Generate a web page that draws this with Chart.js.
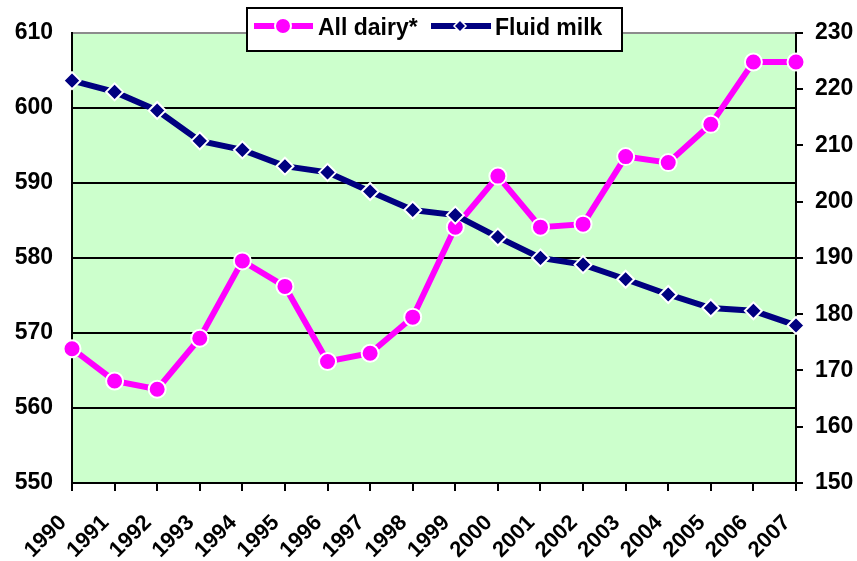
<!DOCTYPE html>
<html lang="en">
<head>
<meta charset="UTF-8">
<title>Dairy consumption</title>
<script src="https://cdn.jsdelivr.net/npm/chart.js"></script>
<style>
    body { margin: 0; background: #ffffff; }
    #wrap { width: 857px; height: 561px; }
</style>
</head>
<body>
<div id="wrap"><canvas id="dairyChart" width="857" height="561"></canvas></div>
<script>
const years = ['1990','1991','1992','1993','1994','1995','1996','1997','1998',
               '1999','2000','2001','2002','2003','2004','2005','2006','2007'];
// left axis
const allDairy = [567.9, 563.6, 562.5, 569.3, 579.6, 576.2, 566.2, 567.3, 572.1,
                  584.1, 590.9, 584.1, 584.5, 593.5, 592.7, 597.8, 606.1, 606.1];
// right axis
const fluidMilk = [221.5, 219.5, 216.2, 210.8, 209.2, 206.3, 205.2, 201.8, 198.5,
                   197.6, 193.7, 190.0, 188.8, 186.2, 183.5, 181.1, 180.6, 178.0];
const leftTicks = [550, 560, 570, 580, 590, 600, 610];
const rightTicks = [150, 160, 170, 180, 190, 200, 210, 220, 230];

const PINK = '#ff00ff';
const NAVY = '#000080';

Chart.defaults.font.family = '"Liberation Sans", Arial, sans-serif';
Chart.defaults.font.weight = 'bold';
Chart.defaults.color = '#000';

// green plot background
const plotBg = {
    id: 'plotBg',
    beforeDraw(chart) {
        const a = chart.chartArea, ctx = chart.ctx;
        ctx.save();
        ctx.fillStyle = '#ccffcc';
        ctx.fillRect(a.left, a.top, a.right - a.left, a.bottom - a.top);
        ctx.restore();
    }
};

// boxed legend sitting over the top of the plot
const boxLegend = {
    id: 'boxLegend',
    afterDraw(chart) {
        const ctx = chart.ctx;
        ctx.save();
        ctx.fillStyle = '#fff';
        ctx.fillRect(247, 8, 375, 43);
        ctx.strokeStyle = '#000';
        ctx.lineWidth = 2;
        ctx.strokeRect(247, 8, 375, 43);

        ctx.font = 'bold 23px "Liberation Sans", Arial, sans-serif';
        ctx.textBaseline = 'middle';
        ctx.fillStyle = '#000';

        // All dairy*
        ctx.strokeStyle = PINK;
        ctx.lineWidth = 6;
        ctx.beginPath(); ctx.moveTo(254, 26); ctx.lineTo(313, 26); ctx.stroke();
        ctx.fillStyle = PINK;
        ctx.strokeStyle = '#fff';
        ctx.lineWidth = 2;
        ctx.beginPath(); ctx.arc(283, 26, 8, 0, Math.PI * 2); ctx.fill(); ctx.stroke();
        ctx.fillStyle = '#000';
        ctx.fillText(chart.data.datasets[0].label, 318, 29);

        // Fluid milk
        ctx.strokeStyle = NAVY;
        ctx.lineWidth = 6;
        ctx.beginPath(); ctx.moveTo(431, 26); ctx.lineTo(491, 26); ctx.stroke();
        ctx.fillStyle = NAVY;
        ctx.strokeStyle = '#fff';
        ctx.lineWidth = 1.5;
        ctx.beginPath();
        ctx.moveTo(460, 20); ctx.lineTo(466, 26); ctx.lineTo(460, 32); ctx.lineTo(454, 26);
        ctx.closePath(); ctx.fill(); ctx.stroke();
        ctx.fillStyle = '#000';
        ctx.fillText(chart.data.datasets[1].label, 495, 29);
        ctx.restore();
    }
};

new Chart(document.getElementById('dairyChart'), {
    type: 'line',
    data: {
        labels: years,
        datasets: [{
            label: 'All dairy*',
            data: allDairy,
            yAxisID: 'y',
            order: 1,
            borderColor: PINK,
            backgroundColor: PINK,
            borderWidth: 6,
            tension: 0,
            pointStyle: 'circle',
            pointRadius: 8.5,
            pointBorderColor: '#fff',
            pointBorderWidth: 2,
            pointBackgroundColor: PINK
        }, {
            label: 'Fluid milk',
            data: fluidMilk,
            yAxisID: 'y1',
            order: 0,
            borderColor: NAVY,
            backgroundColor: NAVY,
            borderWidth: 6,
            tension: 0,
            pointStyle: 'rectRot',
            pointRadius: 8.5,
            pointBorderColor: '#fff',
            pointBorderWidth: 2,
            pointBackgroundColor: NAVY
        }]
    },
    options: {
        responsive: false,
        animation: false,
        layout: { padding: { top: 27, left: 0, right: 0, bottom: 0 } },
        plugins: {
            legend: { display: false },
            tooltip: { enabled: false }
        },
        scales: {
            x: {
                offset: false,
                grid: {
                    drawOnChartArea: false,
                    drawTicks: true,
                    tickLength: 8,
                    color: '#000',
                    lineWidth: 2
                },
                border: { color: '#000', width: 2 },
                ticks: {
                    minRotation: 45,
                    maxRotation: 45,
                    autoSkip: false,
                    padding: 19,
                    labelOffset: -9,
                    font: { size: 22, weight: 'bold' },
                    color: '#000'
                },
                afterFit(scale) { scale.height = 78; }
            },
            y: {
                position: 'left',
                min: 550,
                max: 610,
                afterBuildTicks(scale) { scale.ticks = leftTicks.map(v => ({ value: v })); },
                grid: {
                    drawTicks: false,
                    color: ctx => ctx.tick && ctx.tick.value === 610 ? '#8c8c8c' : '#000',
                    lineWidth: 2
                },
                border: { color: '#000', width: 2 },
                ticks: {
                    padding: 19,
                    font: { size: 23, weight: 'bold' },
                    color: '#000'
                },
                afterFit(scale) { scale.width = 72; }
            },
            y1: {
                position: 'right',
                min: 150,
                max: 230,
                afterBuildTicks(scale) { scale.ticks = rightTicks.map(v => ({ value: v })); },
                grid: {
                    drawOnChartArea: false,
                    drawTicks: true,
                    tickLength: 7,
                    color: '#000',
                    lineWidth: 2
                },
                border: { color: '#000', width: 2 },
                ticks: {
                    padding: 12,
                    font: { size: 23, weight: 'bold' },
                    color: '#000'
                },
                afterFit(scale) { scale.width = 61; }
            }
        }
    },
    plugins: [plotBg, boxLegend]
});
</script>
</body>
</html>
